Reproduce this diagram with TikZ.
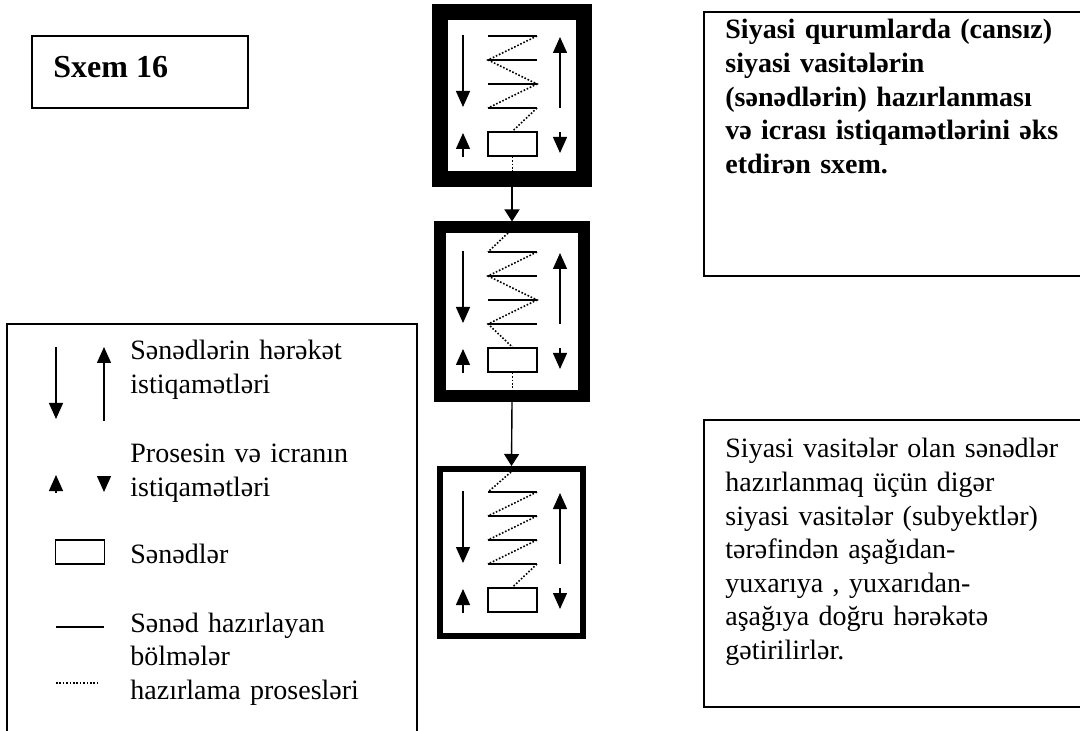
\documentclass[tikz,border=0pt]{standalone}
\usepackage{fontspec}
\setmainfont{Liberation Serif}
\usetikzlibrary{arrows.meta}
\newcommand\boxparts[2]{%
  \draw[bigarr] (463,#1+23) -- (463,#1+95);
  \draw[bigarr] (560,#1+96) -- (560,#1+25);
  \draw[thinline] (488,#1+24) -- (537,#1+24);
  \draw[thinline] (488,#1+48) -- (537,#1+48);
  \draw[thinline] (488,#1+72) -- (537,#1+72);
  \draw[thinline] (488,#1+96) -- (537,#1+96);
  \node[doc] (d#2) at (512.5,#1+132) {};
  \draw[bigarr] (463,#1+145) -- (463,#1+121);
  \draw[bigarr] (560,#1+120) -- (560,#1+141);
}
\begin{document}
\begin{tikzpicture}[x=0.5pt,y=-0.5pt,
  thinline/.style={line width=0.7pt},
  bigarr/.style={thinline,-{Triangle[length=8pt,width=7pt]}},
  connarr/.style={thinline,-{Triangle[length=6pt,width=7.5pt]}},
  dots/.style={line width=0.8pt,dash pattern=on 0.8pt off 0.9pt},
  frame/.style={draw,line width=1pt},
  doc/.style={draw,line width=0.8pt,minimum width=24.5pt,minimum height=12pt,inner sep=0pt},
  txt/.style={font=\fontsize{14pt}{16.8pt}\selectfont,anchor=base west,inner sep=0pt,align=left,text width=200pt},
  txtb/.style={txt,font=\fontsize{14pt}{16.8pt}\selectfont\bfseries},
  stage/.style={draw,inner sep=0pt,minimum width=72pt,minimum height=83.5pt},
]
\useasboundingbox (0,0) rectangle (1080,731);
\fill[white] (0,0) rectangle (1080,731);

% title box
\draw[frame] (32,36) rectangle (248,108);
\node[anchor=base west,inner sep=0pt,font=\fontsize{16pt}{19pt}\selectfont\bfseries] (title) at (53,78) {Sxem 16};

% three stages
\node[stage,line width=8pt] (b1) at (512,95.5) {};
\node[stage,line width=6pt,minimum height=84.25pt] (b2) at (512,311.75) {};
\node[stage,line width=3pt,minimum width=71.5pt] (b3) at (511.5,552.5) {};

\boxparts{12}{1}
\boxparts{228}{2}
\boxparts{468}{3}

% dotted preparation processes
\draw[dots] (537,36) -- (488,60) -- (537,84) -- (488,108);
\draw[dots] (537,108) -- (d1.north);
\draw[dots] (d1.south) -- (512.5,172);
\draw[dots] (508,233) -- (488,252);
\draw[dots] (537,252) -- (488,276) -- (537,300) -- (488,324) -- (d2.north);
\draw[dots] (d2.south) -- (512.5,390);
\draw[dots] (511,472) -- (488,492);
\draw[dots] (537,492) -- (488,516);
\draw[dots] (537,516) -- (488,540);
\draw[dots] (537,540) -- (488,564);
\draw[dots] (537,564) -- (d3.north);

% connectors
\draw[connarr] (b1.south) -- (b2.north);
\draw[connarr] (b2.south) -- (b3.north);

% right text boxes
\draw[frame] (704,12) rectangle (1095,276);
\node[txtb] (t1) at (725,39) {Siyasi qurumlarda (cansız)\\siyasi vasitələrin\\(sənədlərin) hazırlanması\\və icrası istiqamətlərini əks\\etdirən sxem.};
\draw[frame] (704,420) rectangle (1095,707);
\node[txt] (t2) at (725,458) {Siyasi vasitələr olan sənədlər\\hazırlanmaq üçün digər\\siyasi vasitələr (subyektlər)\\tərəfindən aşağıdan-\\yuxarıya , yuxarıdan-\\aşağıya doğru hərəkətə\\gətirilirlər.};

% legend
\draw[frame] (7,324) rectangle (417,760);
\draw[bigarr] (56,347) -- (56,419);
\draw[bigarr] (104,421) -- (104,347);
\node[txt] (l1) at (130,360) {Sənədlərin hərəkət\\istiqamətləri};
\draw[bigarr] (56,493) -- (56,475);
\draw[bigarr] (104,476) -- (104,492);
\node[txt] (l2) at (130,463) {Prosesin və icranın\\istiqamətləri};
\node[doc] (ld) at (80,552) {};
\node[txt] (l3) at (130,563) {Sənədlər};
\draw[thinline] (56,627) -- (104,627);
\draw[dots] (56,683) -- (100,683);
\node[txt] (l4) at (130,632) {Sənəd hazırlayan\\bölmələr\\hazırlama prosesləri};
\end{tikzpicture}
\end{document}
